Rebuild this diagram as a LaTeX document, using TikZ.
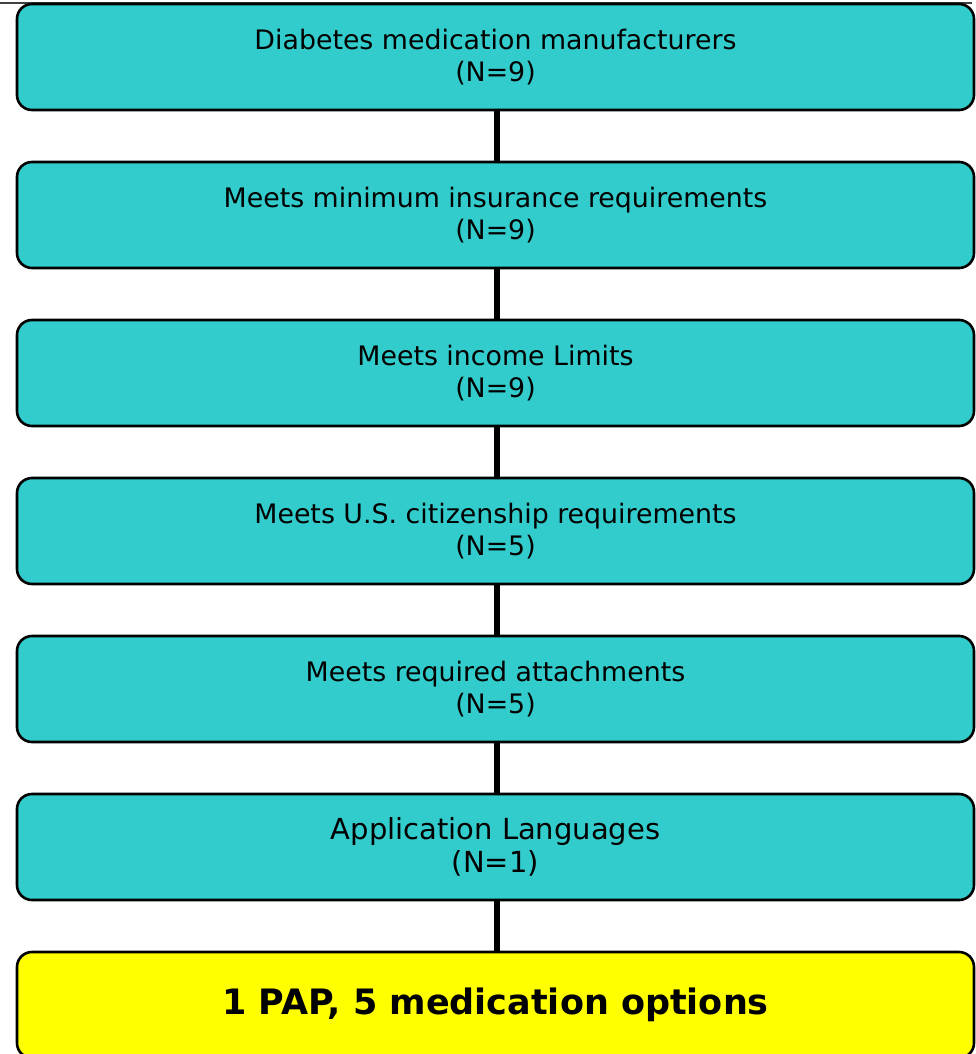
\documentclass[tikz,border=0pt]{standalone}
\usepackage{fontspec}
\setmainfont{DejaVu Sans}
\usepackage{xcolor}
\definecolor{stageteal}{RGB}{51,204,204}
\definecolor{outcomeyellow}{RGB}{255,255,0}

\begin{document}
\begin{tikzpicture}[x=1pt, y=-1pt,
    stage/.style={draw=black, line width=2.6pt, rounded corners=15pt, fill=stageteal,
      minimum width=957pt, minimum height=106pt, inner sep=0pt, align=center,
      font=\fontsize{26.8}{32}\selectfont},
    outcome/.style={stage, fill=outcomeyellow, font=\fontsize{35}{40}\selectfont\bfseries},
    link/.style={line width=5.7pt, black}]
  \useasboundingbox (0,0) rectangle (976,1054);
  \clip (0,0) rectangle (976,1054);

  \draw[line width=1.5pt, black!75] (0,3) -- (972,3);

  \node[stage] (diab) at (495.5,57) {Diabetes medication manufacturers\\(N=9)};
  \node[stage] (insur) at (495.5,215) {Meets minimum insurance requirements\\(N=9)};
  \node[stage] (income) at (495.5,373) {Meets income Limits\\(N=9)};
  \node[stage] (citiz) at (495.5,531) {Meets U.S. citizenship requirements\\(N=5)};
  \node[stage] (attach) at (495.5,689) {Meets required attachments\\(N=5)};
  \node[stage, font=\fontsize{29}{33}\selectfont] (lang) at (495.5,847) {Application Languages\\(N=1)};
  \node[outcome] (result) at (495.5,1005) {1 PAP, 5 medication options};

  \draw[link] ([xshift=1.5pt]diab.south) -- ([xshift=1.5pt]insur.north);
  \draw[link] ([xshift=1.5pt]insur.south) -- ([xshift=1.5pt]income.north);
  \draw[link] ([xshift=1.5pt]income.south) -- ([xshift=1.5pt]citiz.north);
  \draw[link] ([xshift=1.5pt]citiz.south) -- ([xshift=1.5pt]attach.north);
  \draw[link] ([xshift=1.5pt]attach.south) -- ([xshift=1.5pt]lang.north);
  \draw[link] ([xshift=1.5pt]lang.south) -- ([xshift=1.5pt]result.north);
\end{tikzpicture}
\end{document}
